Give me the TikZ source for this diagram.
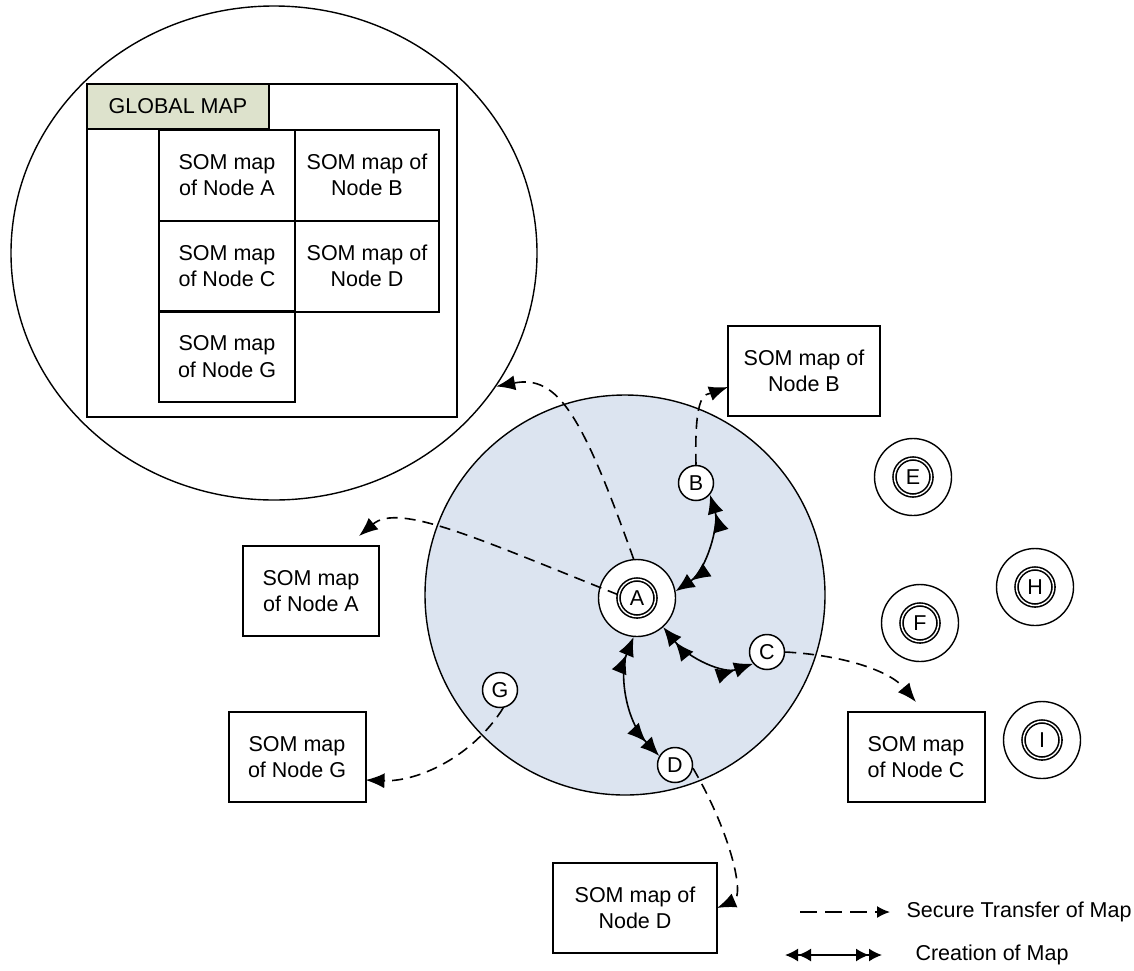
\documentclass[tikz,border=0pt]{standalone}
\usepackage{fontspec}
\setmainfont{Liberation Sans}
\usetikzlibrary{positioning, arrows.meta, calc, shapes.geometric}
\definecolor{zonefill}{HTML}{DCE4F0}
\definecolor{headfill}{HTML}{DDE2CC}

\begin{document}
\begin{tikzpicture}[x=1pt, y=-1pt,
  every node/.style={font=\fontsize{21.5}{26.5}\selectfont},
  box/.style={draw, line width=2pt, align=center, inner sep=0pt, outer sep=0pt},
  cell/.style={box, minimum width=136pt, minimum height=91pt},
  peer/.style={circle, draw, fill=white, line width=1.5pt, minimum size=35pt, inner sep=0pt},
  site/.style={circle, draw, fill=white, line width=1.4pt, minimum size=77pt, inner sep=0pt},
  core/.style={circle, draw, double, double distance=1.4pt, line width=1.6pt, minimum size=37pt, inner sep=0pt},
  xfer/.style={-{Latex[length=19pt,width=15pt]}, dash pattern=on 11pt off 7pt, line width=1.6pt},
  mk/.style={{Latex[length=19pt,width=16pt] Latex[length=19pt,width=16pt]}-{Latex[length=19pt,width=16pt] Latex[length=19pt,width=16pt]}, line width=1.6pt},
  keymk/.style={{Latex[length=13pt,width=13pt] Latex[length=13pt,width=13pt]}-{Latex[length=13pt,width=13pt] Latex[length=13pt,width=13pt]}, line width=1.6pt}]
  \useasboundingbox (0,0) rectangle (1134,970);
  % global map (zoomed in)
  \node[ellipse, draw, line width=1.4pt, minimum width=526pt, minimum height=494pt, inner sep=0pt] (gz) at (274,253) {};
  \node[box, minimum width=370pt, minimum height=333pt] (gm) at (272,250.5) {};
  \node[box, fill=headfill, minimum width=182pt, minimum height=45pt] (gh) at (178,106.5) {GLOBAL MAP};
  \node[cell] (mA) at (227,175) {SOM map\\of Node A};
  \node[cell, minimum width=144pt] (mB) at (367,175) {SOM map of\\Node B};
  \node[cell] (mC) at (227,266) {SOM map\\of Node C};
  \node[cell, minimum width=144pt] (mD) at (367,266) {SOM map of\\Node D};
  \node[cell] (mG) at (227,356.5) {SOM map\\of Node G};
  % peer zone
  \node[circle, draw, fill=zonefill, line width=1.4pt, minimum size=400pt, inner sep=0pt] (zone) at (625,595) {};
  \node[site] (Ao) at (637,598) {};
  \node[core] (Ai) at (637,598) {A};
  \node[peer] (nB) at (696,483) {B};
  \node[peer] (nC) at (767,652) {C};
  \node[peer] (nD) at (675,765) {D};
  \node[peer] (nG) at (500,690) {G};
  % sites outside the zone
  \foreach \n/\x/\y in {E/913/477, F/920/623, H/1035/587, I/1042/740} {
    \node[site] (s\n) at (\x,\y) {};
    \node[core] (c\n) at (\x,\y) {\n};
  }
  % local maps
  \node[box, minimum width=152pt, minimum height=90pt] (bB) at (804,371) {SOM map of\\Node B};
  \node[box, minimum width=136pt, minimum height=90pt] (bA) at (311,591) {SOM map\\of Node A};
  \node[box, minimum width=137pt, minimum height=90pt] (bG) at (297,757) {SOM map\\of Node G};
  \node[box, minimum width=137pt, minimum height=90pt] (bC) at (916,757) {SOM map\\of Node C};
  \node[box, minimum width=164pt, minimum height=90pt] (bD) at (635,908) {SOM map of\\Node D};
  % secure transfer
  \draw[xfer] (Ao.95) .. controls +(-51,-143) and +(62,-12) .. (gz.-31);
  \draw[xfer] (Ai.170) .. controls +(-138,-55) and +(40,-34) .. ($(bA.north east)+(-20,-10)$);
  \draw[xfer] (nB.north) .. controls +(-2,-75) and +(-22,8) .. ($(bB.west)+(0,16)$);
  \draw[xfer] (nC.east) .. controls +(56,3) and +(-27,-32) .. ($(bC.north)+(0,-10)$);
  \draw[xfer] (nG.-80) .. controls +(-30,48) and +(53,2) .. ($(bG.east)+(0,23)$);
  \draw[xfer] (nD.-10) .. controls +(38,65) and +(28,-12) .. (bD.east);
  % creation of map
  \draw[mk] (Ao.10) .. controls +(31,-21) and +(9,30) .. (nB.-40);
  \draw[mk] (Ao.-48) .. controls +(26,32) and +(-29,10) .. (nC.220);
  \draw[mk] (Ao.-95) .. controls +(-14,34) and +(-35,-37) .. (nD.150);
  % legend
  \coordinate (ls1) at (800,912);
  \coordinate (le1) at (890,912);
  \coordinate (ls2) at (785,955);
  \coordinate (le2) at (882,955);
  \draw[xfer, -{Latex[length=13pt,width=12pt]}, dash pattern=on 17pt off 8pt] (ls1) -- (le1);
  \draw[keymk] (ls2) -- (le2);
  \node[anchor=west] (lt1) at (903,912) {Secure Transfer of Map};
  \node[anchor=west] (lt2) at (912,955) {Creation of Map};
\end{tikzpicture}
\end{document}
